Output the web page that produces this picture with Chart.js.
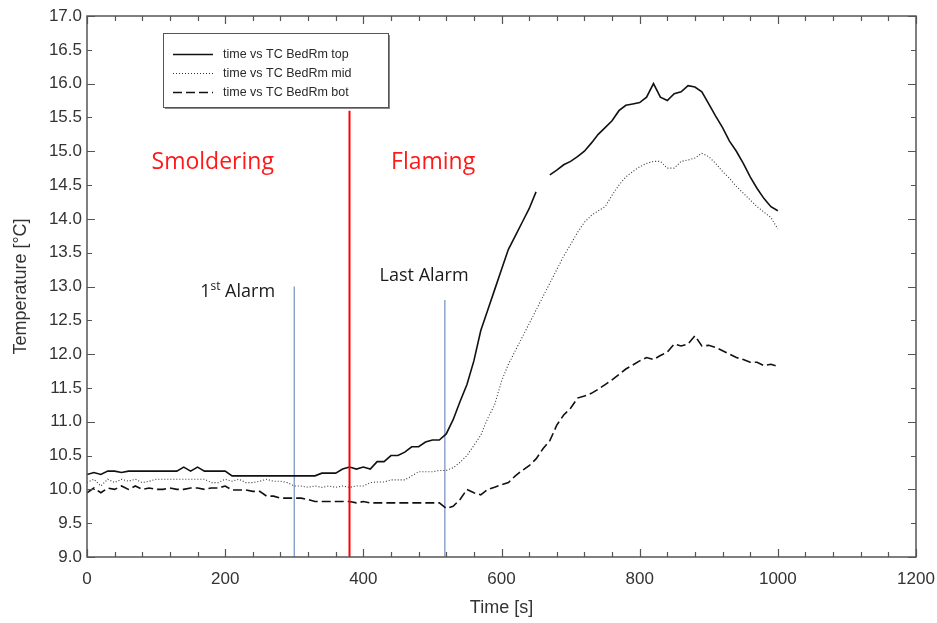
<!DOCTYPE html>
<html><head><meta charset="utf-8">
<script src="https://cdn.jsdelivr.net/npm/chart.js@4.4.1/dist/chart.umd.min.js"></script>
<style>html,body{margin:0;padding:0;background:#fff;}#wrap{width:937px;height:623px;}</style>
</head><body><div id="wrap"><canvas id="c" width="937" height="623"></canvas></div>
<script>
// ---- data ----
const timeS = [0,10,20,30,40,50,60,70,80,90,100,110,120,130,140,150,160,170,180,190,200,
210,220,230,240,250,260,270,280,290,300,310,320,330,340,350,360,370,380,390,400,
410,420,430,440,450,460,470,480,490,500,510,520,530,540,550,560,570,580,590,600,
610,620,630,640,650,660,670,680,690,700,710,720,730,740,750,760,770,780,790,800,
810,820,830,840,850,860,870,880,890,900,910,920,930,940,950,960,970,980,990,1000];

const tcTop = [10.22,10.25,10.22,10.27,10.27,10.25,10.27,10.27,10.27,10.27,10.27,
10.27,10.27,10.27,10.33,10.27,10.33,10.27,10.27,10.27,10.27,
10.2,10.2,10.2,10.2,10.2,10.2,10.2,10.2,10.2,10.2,
10.2,10.2,10.2,10.24,10.24,10.24,10.3,10.33,10.3,10.33,
10.3,10.41,10.41,10.5,10.5,10.55,10.63,10.63,10.7,10.73,
10.73,10.82,11.03,11.3,11.55,11.9,12.35,12.65,12.95,13.25,
13.55,13.75,13.95,14.15,14.4,null,14.65,14.72,14.8,14.85,
14.92,15.0,15.12,15.25,15.35,15.45,15.6,15.68,15.7,15.72,
15.8,16.0,15.8,15.75,15.85,15.88,15.97,15.95,15.88,15.7,
15.52,15.35,15.15,15.0,14.82,14.62,14.45,14.3,14.18,14.12];

const tcMid = [10.1,10.15,10.05,10.15,10.1,10.15,10.12,10.15,10.1,10.12,10.15,
10.15,10.15,10.15,10.15,10.15,10.15,10.15,10.1,10.1,10.15,
10.12,10.15,10.1,10.1,10.12,10.15,10.12,10.12,10.1,10.05,
10.05,10.03,10.05,10.03,10.05,10.03,10.05,10.03,10.05,10.05,
10.1,10.11,10.11,10.14,10.14,10.14,10.2,10.26,10.26,10.26,
10.28,10.28,10.32,10.4,10.5,10.65,10.8,11.05,11.25,11.6,
11.85,12.05,12.25,12.45,12.65,12.85,13.05,13.25,13.45,13.62,
13.8,13.95,14.05,14.12,14.18,14.35,14.5,14.62,14.7,14.77,
14.82,14.85,14.85,14.75,14.75,14.85,14.87,14.9,14.97,14.92,
14.82,14.7,14.6,14.48,14.38,14.28,14.18,14.1,14.02,13.85];

const tcBot = [9.95,10.02,9.95,10.02,10.0,10.05,10.0,10.05,10.0,10.02,10.0,
10.0,10.02,10.0,10.0,10.02,10.02,10.0,10.02,10.02,10.05,
9.99,9.99,9.99,9.97,9.97,9.9,9.9,9.87,9.87,9.87,
9.87,9.85,9.82,9.82,9.82,9.82,9.82,9.82,9.8,9.82,
9.8,9.8,9.8,9.8,9.8,9.8,9.8,9.8,9.8,9.8,
9.8,9.72,9.75,9.85,10.0,9.95,9.92,10.0,10.03,10.07,
10.1,10.2,10.28,10.35,10.45,10.6,10.72,10.95,11.1,11.2,
11.35,11.38,11.42,11.48,11.55,11.62,11.7,11.78,11.84,11.9,
11.95,11.92,11.98,12.03,12.15,12.12,12.15,12.27,12.12,12.13,
12.1,12.05,12.0,11.95,11.92,11.88,11.88,11.83,11.85,11.82];

const seriesNames = ['time vs TC BedRm top','time vs TC BedRm mid','time vs TC BedRm bot'];

// event markers
const firstAlarmTime = [300,300];
const firstAlarmTemp = [9,13.0];
const lastAlarmTime = [518,518];
const lastAlarmTemp = [9,12.8];
const flameTime = [380,380];
const flameTemp = [9,15.6];

const xTickValues = [0,200,400,600,800,1000,1200];
const yTickValues = [9.0,9.5,10.0,10.5,11.0,11.5,12.0,12.5,13.0,13.5,14.0,14.5,15.0,15.5,16.0,16.5,17.0];

// ---- helpers ----
const pts = (xs, ys) => xs.map((x,i)=>({x:x, y:ys[i]}));
const FONT = '"Liberation Sans", Arial, sans-serif';

const framePlugin = {
  id:'frameTicks',
  afterDatasetsDraw(chart){
    const {ctx, chartArea:a, scales:{x,y}} = chart;
    ctx.save();
    ctx.strokeStyle = '#555';
    ctx.lineWidth = 1.5;
    ctx.strokeRect(a.left, a.top, a.right-a.left, a.bottom-a.top);
    ctx.lineWidth = 1.2;
    ctx.beginPath();
    for (let t=0; t<=1200; t+=40){
      const px = Math.round(x.getPixelForValue(t))+0.5;
      const len = (t%200===0)?8:5;
      ctx.moveTo(px,a.bottom); ctx.lineTo(px,a.bottom-len);
      ctx.moveTo(px,a.top); ctx.lineTo(px,a.top+len);
    }
    for (let k=0;k<yTickValues.length;k++){
      const v = yTickValues[k];
      const py = Math.round(y.getPixelForValue(v))+0.5;
      const len = (Math.abs(v-Math.round(v))<1e-6)?8:5;
      ctx.moveTo(a.left,py); ctx.lineTo(a.left+len,py);
      ctx.moveTo(a.right,py); ctx.lineTo(a.right-len,py);
    }
    ctx.stroke();
    ctx.restore();
  }
};

const annotPlugin = {
  id:'annot',
  afterDatasetsDraw(chart){
    const {ctx, scales:{x,y}} = chart;
    ctx.save();
    ctx.textBaseline = 'middle';
    ctx.textAlign = 'center';
    ctx.fillStyle = '#ff1a1a';
    ctx.font = '23px "Open Sans", sans-serif';
    ctx.fillText('Smoldering', x.getPixelForValue(182), y.getPixelForValue(14.83));
    ctx.fillText('Flaming', x.getPixelForValue(501), y.getPixelForValue(14.83));
    ctx.fillStyle = '#1a1a1a';
    ctx.font = '18px "Open Sans", sans-serif';
    ctx.fillText('Last Alarm', x.getPixelForValue(488), y.getPixelForValue(13.16));
    // 1st Alarm with superscript
    const cx = x.getPixelForValue(218), cy = y.getPixelForValue(12.92);
    const f1 = '18px "Open Sans", sans-serif', f2 = '12px "Open Sans", sans-serif';
    ctx.font = f1; const w1 = ctx.measureText('1').width; const w3 = ctx.measureText(' Alarm').width;
    ctx.font = f2; const w2 = ctx.measureText('st').width;
    let sx = cx - (w1+w2+w3)/2;
    ctx.textAlign = 'left';
    ctx.font = f1; ctx.fillText('1', sx, cy); sx += w1;
    ctx.font = f2; ctx.fillText('st', sx, cy-5); sx += w2;
    ctx.font = f1; ctx.fillText(' Alarm', sx, cy);
    ctx.restore();
  }
};

const legendPlugin = {
  id:'boxLegend',
  afterDraw(chart){
    const {ctx, chartArea:a} = chart;
    const bx = a.left+76, by = a.top+17, bw = 225, bh = 74;
    ctx.save();
    ctx.fillStyle = '#fff';
    ctx.fillRect(bx,by,bw,bh);
    ctx.fillStyle = '#888';
    ctx.fillRect(bx+bw, by+2, 2, bh);
    ctx.fillRect(bx+2, by+bh, bw, 2);
    ctx.strokeStyle = '#555'; ctx.lineWidth = 1;
    ctx.strokeRect(bx+0.5,by+0.5,bw,bh);
    const dsList = chart.data.datasets.slice(0,3);
    dsList.forEach((ds,i)=>{
      const yy = by + 21 + i*19 + 0.5;
      ctx.beginPath();
      ctx.setLineDash(ds.borderDash||[]);
      ctx.strokeStyle = ds.borderColor; ctx.lineWidth = ds.borderWidth;
      ctx.moveTo(bx+10,yy); ctx.lineTo(bx+50,yy); ctx.stroke();
      ctx.setLineDash([]);
      ctx.fillStyle = '#2a2a2a';
      ctx.font = '12.5px ' + FONT;
      ctx.textBaseline = 'middle'; ctx.textAlign='left';
      ctx.fillText(ds.label, bx+60, yy);
    });
    ctx.restore();
  }
};

const lineDs = (label, data, dash, width, color, order) => ({
  label, data, borderColor: color, borderWidth: width, borderDash: dash,
  pointRadius: 0, fill: false, tension: 0, spanGaps: false, order
});

new Chart(document.getElementById('c'), {
  type: 'line',
  data: {
    datasets: [
      lineDs(seriesNames[0], pts(timeS, tcTop), [], 1.6, '#111', 1),
      lineDs(seriesNames[1], pts(timeS, tcMid), [1,2], 1.1, '#333', 2),
      lineDs(seriesNames[2], pts(timeS, tcBot), [9,4], 1.6, '#111', 3),
      lineDs('1st Alarm', pts(firstAlarmTime, firstAlarmTemp), [], 1.3, '#7d97c4', 5),
      lineDs('Last Alarm', pts(lastAlarmTime, lastAlarmTemp), [], 1.3, '#7d97c4', 5),
      lineDs('Flaming start', pts(flameTime, flameTemp), [], 2, '#ff0000', 0)
    ]
  },
  options: {
    responsive: false,
    animation: false,
    devicePixelRatio: 1,
    layout: { padding: { top: 16, right: 21, left: 0, bottom: 0 } },
    plugins: { legend: { display: false }, tooltip: { enabled: false } },
    scales: {
      x: {
        type: 'linear', min: 0, max: 1200,
        afterBuildTicks: (s) => { s.ticks = xTickValues.map(v=>({value:v})); },
        afterFit: (s) => { s.height = 66; s.paddingRight = 0; s.paddingLeft = 0; },
        grid: { display: false, drawTicks: false },
        border: { display: false },
        ticks: { padding: 12, color: '#333', font: { family: FONT, size: 17 }, maxRotation: 0, autoSkip: false, callback: (v) => String(v) },
        title: { display: true, text: 'Time [s]', color: '#333', padding: { top: 0, bottom: 4 }, font: { family: FONT, size: 18 } }
      },
      y: {
        type: 'linear', min: 9, max: 17,
        afterBuildTicks: (s) => { s.ticks = yTickValues.map(v=>({value:v})); },
        afterFit: (s) => { s.width = 87; s.paddingTop = 0; s.paddingBottom = 0; },
        grid: { display: false, drawTicks: false },
        border: { display: false },
        ticks: { padding: 5, color: '#333', autoSkip: false, font: { family: FONT, size: 17 }, callback: (v) => Number(v).toFixed(1) },
        title: { display: true, text: 'Temperature [°C]', color: '#333', padding: { top: 10, bottom: 0 }, font: { family: FONT, size: 18 } }
      }
    }
  },
  plugins: [framePlugin, annotPlugin, legendPlugin]
});
</script>
</body></html>
